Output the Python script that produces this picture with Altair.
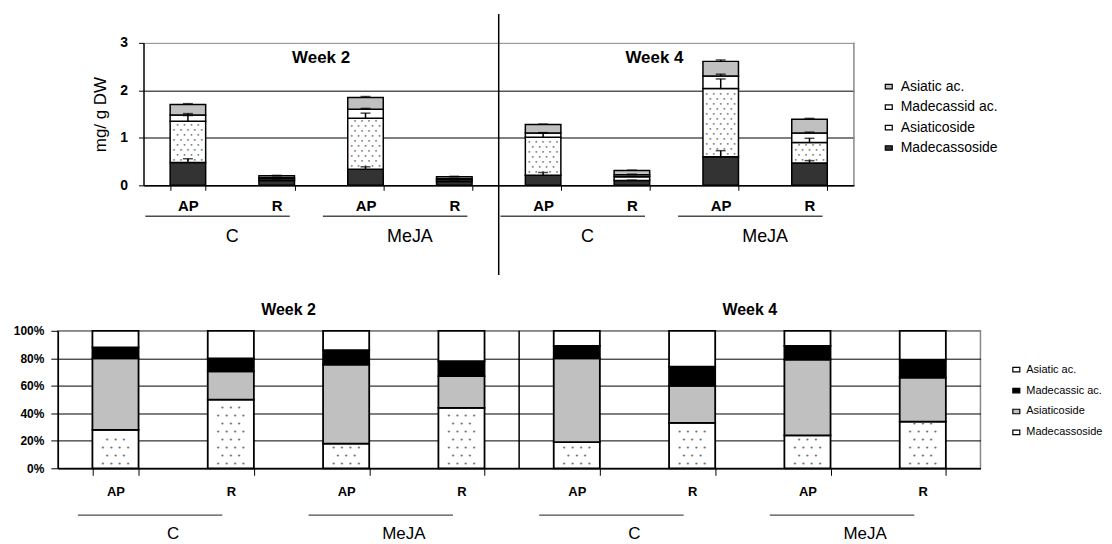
import altair as alt
import pandas as pd

FONT = "Liberation Sans"
MONO = "DejaVu Sans Mono"

# ---------------- data ----------------
weeks = ["Week 2", "Week 2", "Week 2", "Week 2", "Week 4", "Week 4", "Week 4", "Week 4"]
treatments = ["C", "C", "MeJA", "MeJA", "C", "C", "MeJA", "MeJA"]
organs = ["AP", "R", "AP", "R", "AP", "R", "AP", "R"]

# upper panel: content, mg/ g DW (stack order bottom -> top)
madecassoside_mg = [0.48, 0.10, 0.34, 0.08, 0.21, 0.10, 0.60, 0.47]
asiaticoside_mg = [0.87, 0.04, 1.07, 0.04, 0.80, 0.08, 1.44, 0.43]
madecassic_mg = [0.13, 0.02, 0.19, 0.02, 0.09, 0.045, 0.26, 0.20]
asiatic_mg = [0.22, 0.04, 0.25, 0.04, 0.18, 0.085, 0.31, 0.29]
madecassoside_err = [0.08, 0.01, 0.05, 0.01, 0.06, 0.01, 0.13, 0.05]
asiaticoside_err = [0.12, 0.01, 0.11, 0.01, 0.09, 0.01, 0.20, 0.09]
madecassic_err = [0.03, 0.01, 0.02, 0.01, 0.01, 0.01, 0.04, 0.02]
asiatic_err = [0.02, 0.01, 0.02, 0.01, 0.01, 0.01, 0.03, 0.02]

# lower panel: percent composition
madecassoside_pct = [28, 50, 18, 44, 19, 33, 24, 34]
asiaticoside_pct = [52, 20.5, 57.5, 23, 61, 27, 55, 32]
madecassic_pct = [8, 9.5, 10.5, 11, 9, 14, 10, 13]
asiatic_pct = [12, 20, 14, 22, 11, 26, 11, 21]
pct_ticks = [0, 20, 40, 60, 80, 100]
mg_ticks = [0, 1, 2, 3]

top_compounds = ["Madecassoside", "Asiaticoside", "Madecassid ac.", "Asiatic ac."]
bottom_compounds = ["Madecassoside", "Asiaticoside", "Madecassic ac.", "Asiatic ac."]

# ---------------- styles ----------------
TOP_FILL = {"Madecassoside": "#333333", "Asiaticoside": "#ffffff",
            "Madecassid ac.": "#ffffff", "Asiatic ac.": "#c0c0c0"}
BOT_FILL = {"Madecassoside": "#ffffff", "Asiaticoside": "#c0c0c0",
            "Madecassic ac.": "#000000", "Asiatic ac.": "#ffffff"}
RECT = "M-0.7,-0.45L0.7,-0.45L0.7,0.45L-0.7,0.45Z"
PAD_IN, PAD_OUT = 0.6, 0.3
FRAME = "#888888"
DOT = "#606060"

bar_ids = [f"{w}|{t}|{o}" for w, t, o in zip(weeks, treatments, organs)]

# ---------------- tables ----------------
top_vals = [madecassoside_mg, asiaticoside_mg, madecassic_mg, asiatic_mg]
top_errs = [madecassoside_err, asiaticoside_err, madecassic_err, asiatic_err]
top_rows, top_dots = [], []
for i, b in enumerate(bar_ids):
    cum = 0.0
    for k, comp in enumerate(top_compounds):
        lo, hi = cum, cum + top_vals[k][i]
        top_rows.append({"bar": b, "compound": comp, "lo": lo, "hi": hi,
                         "etop": hi + top_errs[k][i]})
        if k == 1:  # dotted texture of Asiaticoside
            step, r = 0.105, 0
            y = lo + 0.6 * step
            while y <= hi - 0.4 * step:
                top_dots.append({"bar": b, "y": y,
                                 "dots": "• • • • •" if r % 2 == 0 else "• • • •"})
                y += step
                r += 1
        cum = hi
top_df = pd.DataFrame(top_rows)
top_dots_df = pd.DataFrame(top_dots)

bot_vals = [madecassoside_pct, asiaticoside_pct, madecassic_pct, asiatic_pct]
bot_rows, bot_dots = [], []
for i, b in enumerate(bar_ids):
    cum = 0.0
    for k, comp in enumerate(bottom_compounds):
        lo, hi = cum, cum + bot_vals[k][i]
        bot_rows.append({"bar": b, "compound": comp, "lo": lo, "hi": hi})
        if k == 0:  # dotted texture of Madecassoside
            step, r = 5.8, 0
            y = lo + 0.55 * step
            while y <= hi - 0.3 * step:
                bot_dots.append({"bar": b, "y": y,
                                 "dots": "•  •  •  •" if r % 2 == 0 else "•  •  •"})
                y += step
                r += 1
        cum = hi
bot_df = pd.DataFrame(bot_rows)
bot_dots_df = pd.DataFrame(bot_dots)

one = pd.DataFrame({"a": [0]})

# ---------------- upper chart ----------------
TOP_LEFT, TOP_PLOT_W, TOP_H = 86, 713, 143
TOP_W = TOP_LEFT + TOP_PLOT_W
TOP_GAP = PAD_OUT * TOP_PLOT_W / 8
top_xscale = alt.Scale(domain=bar_ids, range=[TOP_LEFT, TOP_W],
                       paddingInner=PAD_IN, paddingOuter=PAD_OUT)
top_xaxis = alt.Axis(title=None, labelExpr="split(datum.value, '|')[2]", labelAngle=0,
                     labelFont=FONT, labelFontSize=15, labelFontWeight="bold",
                     labelColor="black", labelPadding=8, tickSize=5, tickColor="black",
                     tickBand="extent", domainColor="black", domainWidth=1.5)
top_yscale = alt.Scale(domain=[0, 3], nice=False)
top_yaxis = alt.Axis(title="mg/ g DW", titleFont=FONT, titleFontSize=17,
                     titleFontWeight="normal", titleColor="black", titlePadding=10,
                     values=mg_ticks, tickCount=len(mg_ticks), offset=-TOP_LEFT,
                     labelFont=FONT, labelFontSize=14,
                     labelFontWeight="bold", labelColor="black", labelPadding=11,
                     tickSize=5, tickColor="black", domainColor="black", domainWidth=1.5,
                     grid=True, gridWidth=1,
                     gridColor={"condition": {"test": "datum.value >= 3", "value": FRAME},
                                "value": "#000000"})


def tx(bp=None):
    kw = dict(scale=top_xscale, axis=top_xaxis)
    if bp is not None:
        kw["bandPosition"] = bp
    return alt.X("bar:N", **kw)


def ty(field):
    return alt.Y(field, scale=top_yscale, axis=top_yaxis)


top_bars = alt.Chart(top_df).mark_bar(stroke="black", strokeWidth=1.5).encode(
    x=tx(),
    y=ty("lo:Q"),
    y2="hi:Q",
    fill=alt.Fill("compound:N",
                  scale=alt.Scale(domain=top_compounds[::-1],
                                  range=[TOP_FILL[c] for c in top_compounds[::-1]]),
                  legend=alt.Legend(title=None, orient="none", legendX=TOP_LEFT + 741,
                                    legendY=37, symbolType=RECT, symbolSize=100,
                                    symbolStrokeColor="black", symbolStrokeWidth=1.2,
                                    labelFont=FONT, labelFontSize=14, labelColor="black",
                                    labelOffset=5, rowPadding=6.5, padding=0)),
)
top_dot_layer = alt.Chart(top_dots_df).mark_text(
    font=MONO, fontSize=5.8, color=DOT, opacity=0.9, baseline="middle").encode(
    x=tx(), y=ty("y:Q"), text="dots:N")
top_stems = alt.Chart(top_df).mark_rule(color="black", strokeWidth=1.5).encode(
    x=tx(), y=ty("hi:Q"), y2="etop:Q")
top_caps = alt.Chart(top_df).mark_tick(color="black", size=10, thickness=1.5).encode(
    x=tx(), y=ty("etop:Q"))
right_frame = alt.Chart(pd.DataFrame({"bar": [bar_ids[-1]]})).mark_rule(
    color=FRAME, strokeWidth=1.5, xOffset=TOP_GAP).encode(
    x=tx(1), y=alt.datum(0), y2=alt.datum(3))

wk2_top = alt.Chart(pd.DataFrame({"bar": [bar_ids[1]], "label": ["Week 2"]})).mark_text(
    font=FONT, fontSize=17, fontWeight="bold", color="black", baseline="middle",
    dx=TOP_GAP).encode(x=tx(1), y=alt.value(15), text="label:N")
wk4_top = alt.Chart(pd.DataFrame({"bar": [bar_ids[5]], "label": ["Week 4"]})).mark_text(
    font=FONT, fontSize=17, fontWeight="bold", color="black", baseline="middle",
    dx=TOP_GAP - 22).encode(x=tx(1), y=alt.value(15), text="label:N")
divider_top = alt.Chart(pd.DataFrame({"bar": [bar_ids[3]]})).mark_rule(
    color="black", strokeWidth=1.5, xOffset=TOP_GAP).encode(
    x=tx(1), y=alt.value(-29), y2=alt.value(233))

grp_top_df = pd.DataFrame({"bar": [bar_ids[0], bar_ids[2], bar_ids[4], bar_ids[6]],
                           "label": [treatments[0], treatments[2], treatments[4], treatments[6]]})
under_top = alt.Chart(grp_top_df).mark_tick(orient="horizontal", size=145, thickness=1.5,
                                            color="black", xOffset=TOP_GAP + 3).encode(
    x=tx(1), y=alt.value(174))
grp_top = alt.Chart(grp_top_df).mark_text(font=FONT, fontSize=18, color="black",
                                          baseline="middle", dx=TOP_GAP).encode(
    x=tx(1), y=alt.value(195), text="label:N")

top_chart = alt.layer(top_bars, top_dot_layer, top_stems, top_caps, right_frame, wk2_top,
                      wk4_top, divider_top, under_top, grp_top).properties(
    width=TOP_W, height=TOP_H, view=alt.ViewBackground(stroke="transparent"))

# ---------------- lower chart ----------------
BOT_W, BOT_H = 926, 138
BOT_GAP = PAD_OUT * BOT_W / 8
bot_xscale = alt.Scale(domain=bar_ids, paddingInner=PAD_IN, paddingOuter=PAD_OUT)
bot_xaxis = alt.Axis(title=None, labelExpr="split(datum.value, '|')[2]", labelAngle=0,
                     labelFont=FONT, labelFontSize=13, labelFontWeight="bold",
                     labelColor="black", labelPadding=10, tickSize=7, tickColor="black",
                     tickBand="extent", domainColor="black", domainWidth=1.5)
bot_yscale = alt.Scale(domain=[0, 100], nice=False)
bot_yaxis = alt.Axis(title=None, values=pct_ticks, tickCount=len(pct_ticks),
                     labelExpr="datum.value + '%'", labelOverlap=False, labelFont=FONT,
                     labelFontSize=12, labelFontWeight="bold", labelColor="black",
                     labelPadding=7, tickSize=7, tickColor="black", domainColor="black",
                     domainWidth=1.5, grid=True, gridWidth=1,
                     gridColor={"condition": {"test": "datum.value >= 100", "value": FRAME},
                                "value": "#000000"})


def bx(bp=None):
    kw = dict(scale=bot_xscale, axis=bot_xaxis)
    if bp is not None:
        kw["bandPosition"] = bp
    return alt.X("bar:N", **kw)


def by(field):
    return alt.Y(field, scale=bot_yscale, axis=bot_yaxis)


bot_bars = alt.Chart(bot_df).mark_bar(stroke="black", strokeWidth=1.8).encode(
    x=bx(), y=by("lo:Q"), y2="hi:Q",
    fill=alt.Fill("compound:N",
                  scale=alt.Scale(domain=bottom_compounds[::-1],
                                  range=[BOT_FILL[c] for c in bottom_compounds[::-1]]),
                  legend=alt.Legend(title=None, orient="none", legendX=956, legendY=33,
                                    symbolType=RECT, symbolSize=100,
                                    symbolStrokeColor="black", symbolStrokeWidth=1.2,
                                    labelFont=FONT, labelFontSize=11, labelColor="black",
                                    labelOffset=4, rowPadding=10, padding=0)))
bot_dot_layer = alt.Chart(bot_dots_df).mark_text(
    font=MONO, fontSize=7, color=DOT, opacity=0.9, baseline="middle").encode(
    x=bx(), y=by("y:Q"), text="dots:N")
divider_bot = alt.Chart(pd.DataFrame({"bar": [bar_ids[3]]})).mark_rule(
    color="black", strokeWidth=1.5, xOffset=BOT_GAP).encode(
    x=bx(1), y=alt.datum(0), y2=alt.datum(100))
wk_bot_df = pd.DataFrame({"bar": [bar_ids[1], bar_ids[5]], "label": ["Week 2", "Week 4"]})
wk_bot = alt.Chart(wk_bot_df).mark_text(font=FONT, fontSize=16, fontWeight="bold",
                                        color="black", baseline="middle", dx=BOT_GAP).encode(
    x=bx(1), y=alt.value(-21), text="label:N")
grp_bot_df = pd.DataFrame({"bar": [bar_ids[0], bar_ids[2], bar_ids[4], bar_ids[6]],
                           "label": [treatments[0], treatments[2], treatments[4], treatments[6]]})
under_bot = alt.Chart(grp_bot_df).mark_tick(orient="horizontal", size=145, thickness=1.5,
                                            color="black", xOffset=BOT_GAP).encode(
    x=bx(1), y=alt.value(185))
grp_bot = alt.Chart(grp_bot_df).mark_text(font=FONT, fontSize=17, color="black",
                                          baseline="middle", dx=BOT_GAP).encode(
    x=bx(1), y=alt.value(204), text="label:N")
spacer_bot = alt.Chart(one).mark_rule(strokeOpacity=0).encode(
    x=alt.value(-49), x2=alt.value(-48), y=alt.value(60))

bottom_chart = alt.layer(bot_bars, bot_dot_layer, divider_bot, wk_bot, under_bot, grp_bot,
                         spacer_bot).properties(width=BOT_W, height=BOT_H)

chart = alt.vconcat(top_chart, bottom_chart, spacing=24).resolve_scale(
    x="independent", y="independent", fill="independent"
).properties(
    padding={"left": 0, "top": 3, "right": 0, "bottom": 0}
).configure_view(stroke=FRAME, strokeWidth=1.5)

chart.save("out.html", embed_options={"renderer": "svg", "actions": False})
